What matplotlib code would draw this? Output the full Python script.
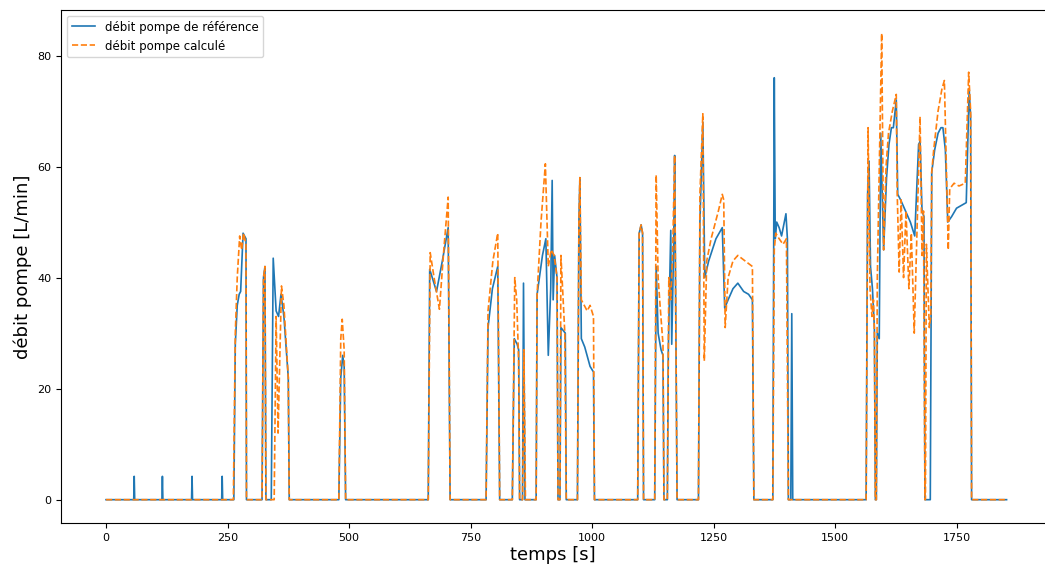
import numpy as np
import matplotlib
matplotlib.use("Agg")
import matplotlib.pyplot as plt

# débit de référence (points de cassure)
t_ref = [0, 57, 58, 59, 115, 116, 117, 176, 177, 178, 238, 239, 240,
         263, 266, 270, 274, 277, 282, 288, 289,
         321, 324, 327, 329,
         340, 344, 350, 355, 360, 366, 375, 377,
         479, 483, 487, 490, 493,
         663, 666, 680, 692, 704, 708,
         782, 786, 795, 806, 810,
         836, 840, 846, 849, 851,
         857, 859, 862,
         885, 887, 898, 905, 910, 915, 918, 920, 923, 928, 930,
         934, 936, 945, 947,
         970, 973, 975, 978, 985, 996, 1003, 1005,
         1094, 1097, 1101, 1104, 1106,
         1129, 1132, 1136, 1142, 1146, 1148,
         1155, 1157, 1162, 1164, 1168, 1170, 1175,
         1219, 1222, 1228, 1232, 1240, 1255, 1268, 1273, 1280, 1290, 1300, 1312, 1322, 1330, 1333,
         1372, 1375, 1377, 1380, 1385, 1390, 1399, 1402, 1404, 1409, 1411, 1413,
         1564, 1567, 1570, 1573, 1577, 1581, 1583,
         1585, 1587, 1591, 1594, 1600, 1606, 1611, 1616, 1620, 1626, 1629, 1635, 1645, 1655, 1664, 1672, 1675, 1679, 1683, 1685,
         1696, 1699, 1705, 1712, 1718, 1722, 1727, 1732, 1740, 1750, 1760, 1770, 1776, 1779, 1781,
         1853]
q_ref = [0, 0, 4.2, 0, 0, 4.2, 0, 0, 4.2, 0, 0, 4.2, 0,
         0, 28, 35, 37, 37.5, 48, 47, 0,
         0, 40, 42, 0,
         0, 43.5, 34, 33, 37, 33, 22, 0,
         0, 22, 26, 24, 0,
         0, 41.5, 37.5, 43, 49, 0,
         0, 31, 38, 42, 0,
         0, 29, 28, 27, 0,
         0, 39, 0,
         0, 37, 44, 47, 26, 38, 57.5, 36, 44, 40, 0,
         0, 31, 30, 0,
         0, 50, 58, 29, 27.5, 24, 23, 0,
         0, 48, 49.5, 48, 0,
         0, 42, 30, 27, 26, 0,
         0, 27, 48.5, 28, 46, 62, 0,
         0, 50, 68, 40, 43, 47, 49, 34.5, 36, 38, 39, 37.5, 37, 36, 0,
         0, 76, 47, 50, 49, 47.5, 51.5, 47, 0, 0, 33.5, 0,
         0, 55, 61, 42, 38, 31, 0,
         0, 30, 29, 66, 45, 58, 64, 67, 67, 72, 55, 54, 52, 50, 47.5, 64, 64.5, 52, 51, 0,
         0, 59, 63, 66, 67, 67, 63, 50, 51, 52.5, 53, 53.5, 74, 69, 0,
         0]

# débit calculé
t_calc = [0,
          262, 266, 270, 275, 279, 283, 288, 289,
          321, 324, 327, 329,
          346, 350, 354, 361, 366, 375, 377,
          479, 483, 486, 490, 493,
          663, 667, 675, 686, 695, 704, 708,
          782, 786, 796, 806, 810,
          836, 841, 845, 849, 851,
          857, 860, 863,
          885, 887, 895, 904, 910, 916, 922, 928, 930,
          934, 936, 944, 947,
          970, 973, 975, 978, 990, 996, 1003, 1005,
          1094, 1097, 1101, 1104, 1106,
          1129, 1132, 1136, 1140, 1146, 1148,
          1155, 1158, 1162, 1166, 1170, 1175,
          1219, 1222, 1228, 1231, 1236, 1245, 1260, 1268, 1271, 1274, 1280, 1290, 1300, 1315, 1330, 1333,
          1372, 1375, 1378, 1385, 1393, 1400, 1404,
          1564, 1568, 1572, 1576, 1579, 1581, 1583,
          1585, 1587, 1596, 1600, 1605, 1610, 1618, 1626, 1628, 1632, 1636, 1641, 1646, 1652, 1657, 1663, 1675, 1679, 1682, 1685,
          1686, 1688, 1694, 1697, 1699, 1703, 1712, 1720, 1725, 1729, 1733, 1736, 1745, 1755, 1768, 1775, 1779, 1781,
          1853]
q_calc = [0,
          0, 30, 40, 47.5, 45, 48, 46, 0,
          0, 40, 42, 0,
          0, 33, 12, 38.5, 35, 22, 0,
          0, 29, 32.5, 27, 0,
          0, 44.5, 40, 34.3, 45, 54.5, 0,
          0, 34, 43, 48, 0,
          0, 40, 36, 25, 0,
          0, 27, 0,
          0, 37, 50, 60.5, 42, 45, 44, 40, 0,
          0, 44, 30, 0,
          0, 50, 58, 36, 34, 35, 33, 0,
          0, 48, 49.5, 48, 0,
          0, 58.5, 40, 35, 28, 0,
          0, 40, 36, 45, 62, 0,
          0, 55, 69.5, 25, 43, 47, 52, 55, 54, 31, 40, 43, 44, 43, 42, 0,
          0, 45, 48, 47, 46, 47, 0,
          0, 67, 38, 33, 36, 30, 0,
          0, 40, 84, 45, 60, 66, 70, 73, 55, 41, 54, 40, 52, 38, 48, 30, 69, 44, 52, 0,
          0, 46, 31, 33, 59, 63, 70, 74, 75.5, 60, 45, 56, 57, 56.5, 57, 77, 70, 0,
          0]

fig = plt.figure(figsize=(10.45, 5.7), dpi=100)
# l'axe dépasse à droite, comme sur la capture d'origine
ax = fig.add_axes([61 / 1045, 47 / 570, 1010 / 1045, 513 / 570])

ax.plot(t_ref, q_ref, color='tab:blue', lw=1.2, label='débit pompe de référence')
ax.plot(t_calc, q_calc, color='tab:orange', lw=1.2, ls='--', label='débit pompe calculé')

ax.set_xlim(-92.65, -92.65 + 1010 / 0.486)
ax.set_xlabel('temps [s]', fontsize=13)
ax.xaxis.set_label_coords(492 / 1010, -0.045)
ax.set_ylabel('débit pompe [L/min]', fontsize=13)
ax.tick_params(labelsize=8)
ax.legend(loc='upper left', fontsize=8.5)

fig.savefig('out.png', dpi=100)
